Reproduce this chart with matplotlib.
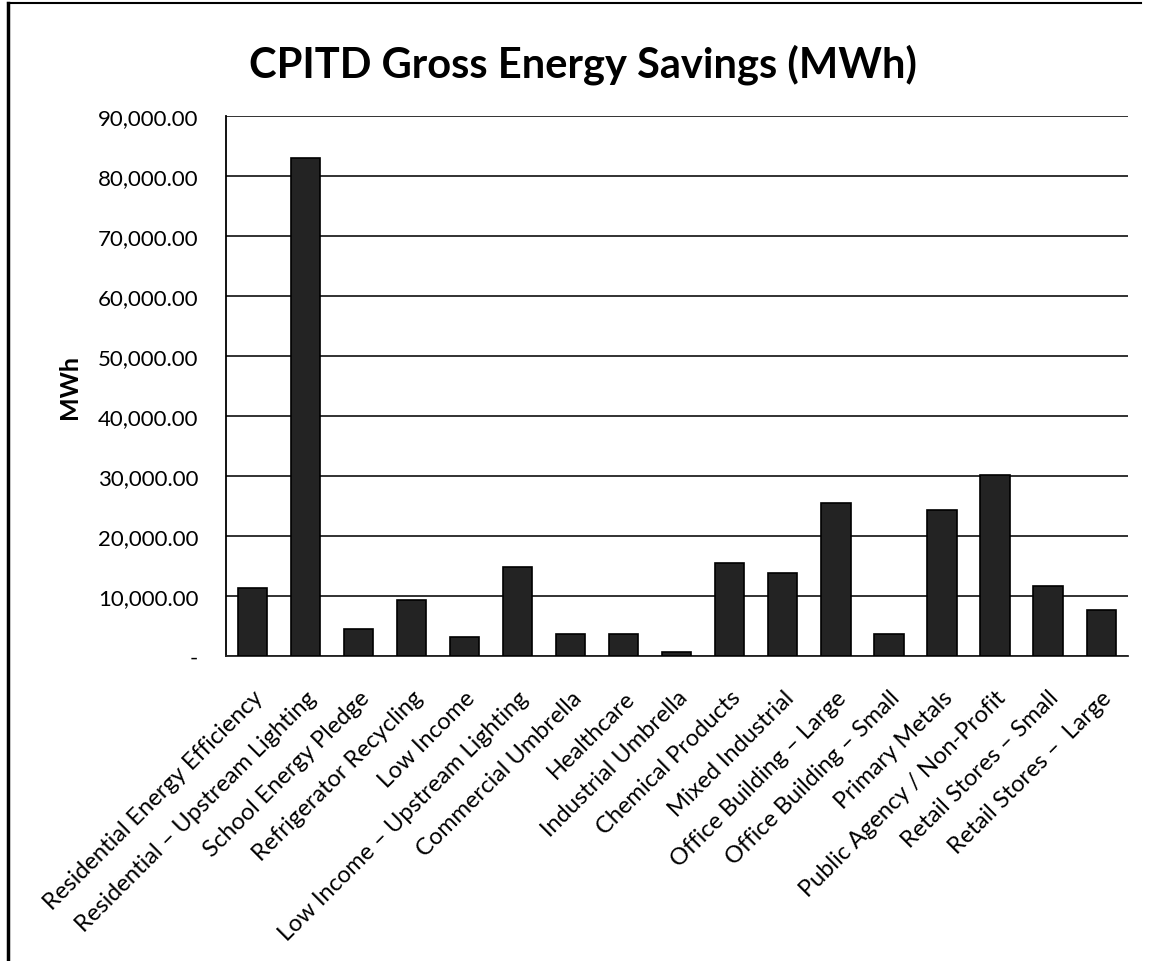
import matplotlib.pyplot as plt
from matplotlib.ticker import FuncFormatter, MultipleLocator
from matplotlib.lines import Line2D
import numpy as np

# CPITD gross energy savings by program (MWh)
programs = [
    "Residential Energy Efficiency",
    "Residential \u2013 Upstream Lighting",
    "School Energy Pledge",
    "Refrigerator Recycling",
    "Low Income",
    "Low Income \u2013 Upstream Lighting",
    "Commercial Umbrella",
    "Healthcare",
    "Industrial Umbrella",
    "Chemical Products",
    "Mixed Industrial",
    "Office Building \u2013 Large",
    "Office Building \u2013 Small",
    "Primary Metals",
    "Public Agency / Non-Profit",
    "Retail Stores \u2013 Small",
    "Retail Stores \u2013  Large",
]
savings = [11400, 83000, 4500, 9400, 3100, 14800, 3700, 3700, 700,
           15500, 13800, 25600, 3700, 24300, 30200, 11700, 7600]

plt.rcParams['font.family'] = ['Lato', 'DejaVu Sans']

fig = plt.figure(figsize=(11.53, 9.62), dpi=100)
ax = fig.add_axes([0.196, 0.317, 0.782, 0.561])

x = np.arange(len(programs))
ax.bar(x, savings, width=0.55, color='#232323', edgecolor='black', linewidth=1.2, zorder=3)

ax.set_ylim(0, 90000)
ax.set_xlim(-0.5, len(programs) - 0.5)
ax.yaxis.set_major_locator(MultipleLocator(10000))
ax.yaxis.set_major_formatter(FuncFormatter(lambda v, pos: '-' if v == 0 else f'{v:,.2f}'))
ax.grid(axis='y', color='#222222', linewidth=1.3, zorder=0)

ax.set_xticks(x)
ax.set_xticklabels(programs, rotation=45, ha='right', rotation_mode='anchor', fontsize=17)
ax.tick_params(axis='y', labelsize=16, length=0, pad=20)
ax.tick_params(axis='x', length=0, pad=22)

ax.spines['right'].set_visible(False)
ax.spines['top'].set_visible(False)
ax.spines['left'].set_color('black')
ax.spines['bottom'].set_color('#222222')
ax.spines['left'].set_linewidth(1.3)
ax.spines['bottom'].set_linewidth(1.3)

ax.set_ylabel('MWh', fontsize=18, fontweight='bold', labelpad=12)
fig.suptitle('CPITD Gross Energy Savings (MWh)', fontsize=30, fontweight='bold', x=0.506, y=0.954)

# scanned page edges: left and top only
fig.lines.append(Line2D([0.007, 0.007], [0.0, 0.996], transform=fig.transFigure, color='black', linewidth=2.5))
fig.lines.append(Line2D([0.007, 0.99], [0.996, 0.996], transform=fig.transFigure, color='black', linewidth=1.5))

fig.savefig('out.png', dpi=100)
